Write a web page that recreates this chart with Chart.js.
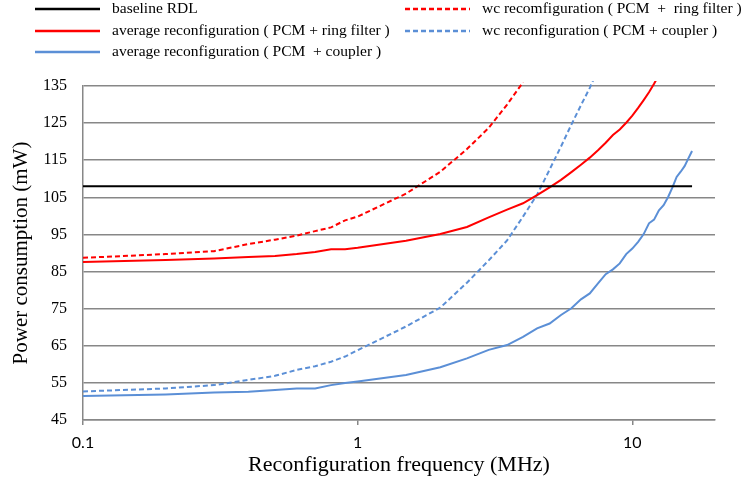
<!DOCTYPE html>
<html>
<head>
<meta charset="utf-8">
<script src="https://cdn.jsdelivr.net/npm/chart.js@4.4.1/dist/chart.umd.min.js"></script>
<style>
  html, body { margin: 0; padding: 0; background: #fff; }
  #wrap { width: 755px; height: 483px; }
</style>
</head>
<body>
<div id="wrap"><canvas id="c" width="755" height="483"></canvas></div>
<script>
// Reconfiguration frequency sample points (MHz)
const freqMHz = [0.1, 0.2, 0.3, 0.4, 0.5, 0.6, 0.7, 0.8, 0.9,
  1, 1.5, 2, 2.5, 3, 3.5, 4, 4.5, 5, 5.5, 6, 6.5, 7, 7.5, 8, 8.5, 9, 9.5,
  10, 10.5, 11, 11.5, 12, 12.5, 13, 13.5, 14, 14.5, 15, 15.5, 16, 16.5];

// Power consumption (mW) per series, aligned with freqMHz from the start
const baselineRDL = 108;
const avgRing = [87.6, 88.1, 88.5, 88.9, 89.2, 89.7, 90.3, 91.0, 91.0,
  91.4, 93.3, 95.1, 97.0, 99.6, 101.7, 103.4, 105.6, 107.7, 109.7, 111.8, 113.8,
  115.7, 117.7, 119.7, 121.8, 123.3, 125.1, 127.0, 129.1, 131.2, 133.3, 135.6, 138.0];
const avgCoupler = [51.5, 51.9, 52.4, 52.6, 53.1, 53.5, 53.5, 54.4, 55.0,
  55.4, 57.1, 59.2, 61.6, 63.9, 65.2, 67.4, 69.7, 71.0, 73.3, 75.1, 77.5, 79.1,
  81.8, 84.3, 85.6, 87.2, 89.7, 91.2, 93.0, 95.1, 98.0, 99.0, 101.5, 102.9, 105.1,
  107.7, 110.5, 111.9, 113.4, 115.5, 117.5];
const wcRing = [88.7, 89.7, 90.5, 92.4, 93.6, 94.7, 95.9, 96.9, 98.8,
  99.8, 106.0, 111.9, 118.0, 123.7, 130.0, 136.0];
const wcCoupler = [52.7, 53.5, 54.4, 55.8, 56.9, 58.5, 59.5, 60.7, 62.1,
  63.8, 70.2, 75.3, 82.0, 88.0, 93.4, 99.8, 105.7, 112.5, 118.7, 124.6, 129.8,
  134.5, 139.5];

const seriesLabels = [
  'baseline RDL',
  'average reconfiguration ( PCM + ring filter )',
  'average reconfiguration ( PCM  + coupler )',
  'wc recomfiguration ( PCM  +  ring filter )',
  'wc reconfiguration ( PCM + coupler )'
];
const yTicks = [45, 55, 65, 75, 85, 95, 105, 115, 125, 135];
const xTicks = [0.1, 1, 10];

const RED = '#ff0000';
const BLUE = '#5b8fd6';
const GRID = '#878787';
const SERIF = '"Liberation Serif", "Times New Roman", serif';

function toPoints(values) {
  return values.map((v, i) => ({ x: freqMHz[i], y: v }));
}

function lineSet(label, values, color, dash) {
  return {
    label: label,
    data: toPoints(values),
    borderColor: color,
    backgroundColor: color,
    borderWidth: 2,
    borderDash: dash || [],
    pointRadius: 0,
    tension: 0,
    fill: false,
    clip: { left: 0, top: 5, right: 0, bottom: 0 }
  };
}

// Two-column legend drawn above the plot
const legendSlots = [
  { x: 35, y: 9 }, { x: 35, y: 31 }, { x: 35, y: 52 },
  { x: 405, y: 9 }, { x: 405, y: 31 }
];
const columnLegend = {
  id: 'columnLegend',
  afterDraw(chart) {
    const ctx = chart.ctx;
    chart.data.datasets.forEach((ds, i) => {
      const s = legendSlots[i];
      ctx.save();
      ctx.strokeStyle = ds.borderColor;
      ctx.lineWidth = 2.5;
      ctx.setLineDash(ds.borderDash || []);
      ctx.beginPath();
      ctx.moveTo(s.x, s.y);
      ctx.lineTo(s.x + 65, s.y);
      ctx.stroke();
      ctx.setLineDash([]);
      ctx.fillStyle = '#000';
      ctx.font = '15.5px ' + SERIF;
      ctx.textBaseline = 'middle';
      ctx.fillText(ds.label, s.x + 77, s.y);
      ctx.restore();
    });
  }
};

const datasets = [
  {
    label: seriesLabels[0],
    data: [{ x: freqMHz[0], y: baselineRDL }, { x: freqMHz[freqMHz.length - 1], y: baselineRDL }],
    borderColor: '#000000',
    backgroundColor: '#000000',
    borderWidth: 2,
    pointRadius: 0,
    tension: 0,
    fill: false
  },
  lineSet(seriesLabels[1], avgRing, RED),
  lineSet(seriesLabels[2], avgCoupler, BLUE),
  lineSet(seriesLabels[3], wcRing, RED, [5, 3]),
  lineSet(seriesLabels[4], wcCoupler, BLUE, [5, 3])
];

new Chart(document.getElementById('c'), {
  type: 'line',
  data: { datasets: datasets },
  plugins: [columnLegend],
  options: {
    responsive: false,
    animation: false,
    devicePixelRatio: 1,
    layout: { padding: { top: 86, right: 40, bottom: 0, left: 0 } },
    plugins: { legend: { display: false }, tooltip: { enabled: false } },
    scales: {
      x: {
        type: 'logarithmic',
        min: 0.1,
        max: 20,
        afterBuildTicks: s => { s.ticks = xTicks.map(v => ({ value: v })); },
        afterFit: s => { s.height = 63; },
        grid: { drawOnChartArea: false, drawTicks: true, tickLength: 5, color: GRID, lineWidth: 1.5 },
        border: { color: GRID, width: 1.5 },
        ticks: {
          padding: 8, color: '#000', autoSkip: false, maxRotation: 0,
          font: { family: 'Lato', size: 16 },
          callback: v => String(v)
        },
        title: {
          display: true, text: 'Reconfiguration frequency (MHz)', color: '#000',
          font: { family: SERIF, size: 22 }, padding: { top: 0, bottom: 5 }
        }
      },
      y: {
        type: 'linear',
        min: 45,
        max: 135,
        afterBuildTicks: s => { s.ticks = yTicks.map(v => ({ value: v })); },
        afterFit: s => { s.width = 83; },
        grid: { color: GRID, lineWidth: 1.5, drawTicks: false },
        border: { color: GRID, width: 1.5 },
        ticks: { padding: 16, color: '#000', font: { family: SERIF, size: 16 } },
        title: {
          display: true, text: 'Power consumption (mW)', color: '#000',
          font: { family: SERIF, size: 21 }, padding: { top: 9, bottom: 0 }
        }
      }
    }
  }
});
</script>
</body>
</html>
